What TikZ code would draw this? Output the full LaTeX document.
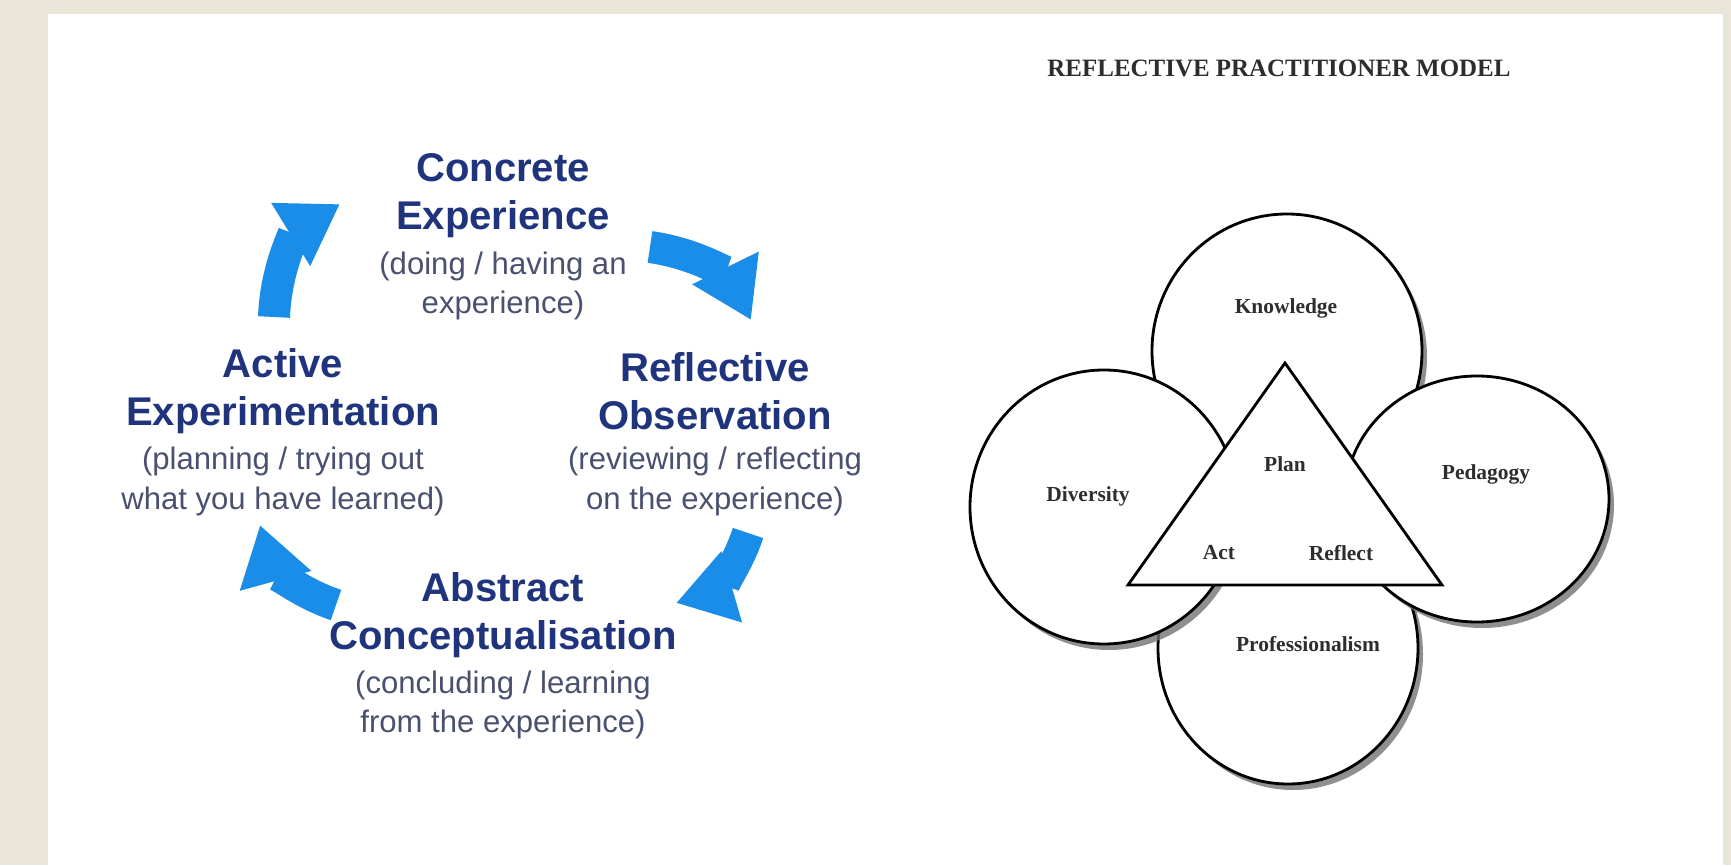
\documentclass[tikz,border=0pt]{standalone}
\usepackage{fontspec}
\setmainfont{Liberation Serif}
\setsansfont{Liberation Sans}
\usetikzlibrary{arrows.meta}
\usetikzlibrary{shadows}
\usetikzlibrary{positioning}

\definecolor{linen}{RGB}{233,229,216}
\definecolor{kolbnavy}{RGB}{31,52,125}
\definecolor{kolbslate}{RGB}{74,80,112}
\definecolor{kolbblue}{RGB}{26,141,232}
\definecolor{inkgrey}{RGB}{45,45,45}

\begin{document}
\begin{tikzpicture}[
        stage/.style={font=\sffamily\bfseries\fontsize{11.4}{13.6}\selectfont,text=kolbnavy,align=center,inner sep=0pt},
        gloss/.style={font=\sffamily\fontsize{8.85}{11.2}\selectfont,text=kolbslate,align=center,inner sep=0pt},
        turn/.style={kolbblue,line width=3.2mm,-{Triangle[length=5.8mm,width=7mm]},bend left=28},
        ring/.style={draw=black,fill=white,line width=0.8pt,
            drop shadow={shadow xshift=0.5mm,shadow yshift=-0.6mm,fill=black!55,opacity=0.8}},
        tag/.style={font=\bfseries\fontsize{6.1}{7}\selectfont,text=inkgrey,inner sep=0pt}]

            %\draw [help lines] (0,0) grid (17,8);

            % page and white sheet
            \fill[linen] (0,0) rectangle (17.31,8.65);
            \fill[white] (0.48,0) rectangle (17.23,8.51);

            % experiential learning cycle
            \path   (5.03,6.69)  node (ce) [stage] {Concrete\\Experience}
                    (5.03,5.79)  node (ce-g) [gloss] {(doing / having an\\experience)}
                    (7.15,4.74)  node (ro) [stage] {Reflective\\Observation}
                    (7.15,3.835) node (ro-g) [gloss] {(reviewing / reflecting\\on the experience)}
                    (5.03,2.50)  node (ac) [stage] {Abstract\\Conceptualisation}
                    (5.03,1.60)  node (ac-g) [gloss] {(concluding / learning\\from the experience)}
                    (2.83,4.74)  node (ae) [stage] {Active\\Experimentation}
                    (2.83,3.835) node (ae-g) [gloss] {(planning / trying out\\what you have learned)};

            \coordinate (tl-a) at (2.74,5.48);
            \coordinate (tl-b) at (3.40,6.61);
            \coordinate (tr-a) at (6.50,6.18);
            \coordinate (tr-b) at (7.51,5.45);
            \coordinate (br-a) at (7.48,3.32);
            \coordinate (br-b) at (6.76,2.62);
            \coordinate (bl-a) at (3.36,2.60);
            \coordinate (bl-b) at (2.60,3.40);

            \draw[turn] (tl-a) to (tl-b);
            \draw[turn] (tr-a) to (tr-b);
            \draw[turn] (br-a) to (br-b);
            \draw[turn] (bl-a) to (bl-b);

            % reflective practitioner model
            \path (12.79,7.97) node (title) [font=\bfseries\fontsize{7.1}{8}\selectfont,text=inkgrey] {REFLECTIVE PRACTITIONER MODEL};

            \path[ring] (12.87,5.14) ellipse [x radius=1.35,y radius=1.37];
            \path[ring] (12.88,2.17) ellipse [x radius=1.30,y radius=1.36];
            \path[ring] (11.04,3.58) ellipse [x radius=1.34,y radius=1.37];
            \path[ring] (14.77,3.66) ellipse [x radius=1.32,y radius=1.23];

            \coordinate (apex) at (12.85,5.02);
            \coordinate (lft) at (11.28,2.80);
            \coordinate (rgt) at (14.42,2.80);
            \draw[fill=white,line width=0.8pt] (apex) -- (lft) -- (rgt) -- cycle;

            \path   (12.86,5.565) node (know) [tag] {Knowledge}
                    (10.88,3.69)  node (div) [tag] {Diversity}
                    (14.86,3.91)  node (ped) [tag] {Pedagogy}
                    (13.08,2.21)  node (prof) [tag] {Professionalism}
                    (12.85,4.01)  node (plan) [tag] {Plan}
                    (12.19,3.12)  node (act) [tag] {Act}
                    (13.41,3.12)  node (refl) [tag] {Reflect};

        \end{tikzpicture}
\end{document}
